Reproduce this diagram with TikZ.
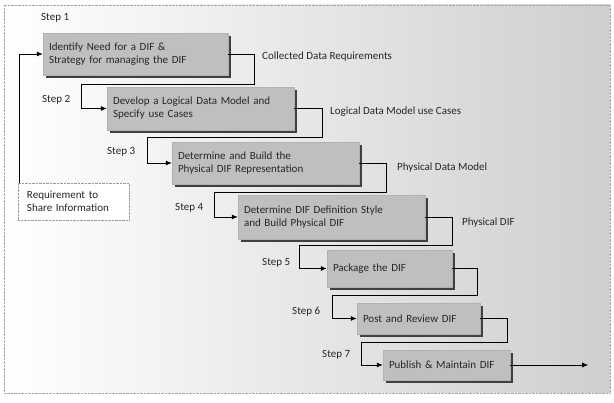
\documentclass[tikz,border=0pt]{standalone}
\usepackage{fontspec}
\setmainfont{Carlito}
\usetikzlibrary{arrows.meta,shadows,calc}
\begin{document}
\begin{tikzpicture}[x=1pt,y=-1pt,
  every node/.style={font=\fontsize{11}{13}\selectfont, text=black!85},
  stepbox/.style={fill=gray!50, draw=gray!60, inner xsep=6pt, inner ysep=0pt, align=left,
    drop shadow={shadow xshift=3pt, shadow yshift=-3pt, fill=black!75, opacity=1}},
  reqbox/.style={fill=white, draw=gray!80, densely dotted, inner xsep=9pt, inner ysep=0pt, align=left,
    text width=93pt, minimum height=37pt},
  conn/.style={draw=black, line width=0.8pt, -{Latex[length=6pt,width=5pt]}},
  lbl/.style={anchor=west, inner sep=0pt},
  steplbl/.style={anchor=west, inner sep=0pt}]
\useasboundingbox (0,0) rectangle (614,403);
\path[shading=axis, shading angle=60, left color=white, right color=gray!38] (4,5) rectangle (610,393);
\draw[gray!70, densely dotted] (4,5) rectangle (610,393);

\node[stepbox, text width=173pt, minimum height=42pt] (b1) at (135.5,54) {Identify Need for a DIF \&\\Strategy for managing the DIF};
\node[stepbox, text width=175pt, minimum height=43pt] (b2) at (200.5,108.5) {Develop a Logical Data Model and\\Specify use Cases};
\node[stepbox, text width=175pt, minimum height=42pt] (b3) at (265.5,163) {Determine and Build the\\Physical DIF Representation};
\node[stepbox, text width=175pt, minimum height=44pt] (b4) at (331.5,217) {Determine DIF Definition Style\\and Build Physical DIF};
\node[stepbox, text width=113pt, minimum height=37pt] (b5) at (389.5,268.5) {Package the DIF};
\node[stepbox, text width=111pt, minimum height=31pt] (b6) at (418.5,318.5) {Post and Review DIF};
\node[stepbox, text width=115pt, minimum height=30pt] (b7) at (446.5,365) {Publish \& Maintain DIF};

\node[reqbox] (req) at (73.5,201.5) {Requirement to\\Share Information};

\node[steplbl] (s1) at (41,18) {Step 1};
\node[steplbl] (s2) at (42,100) {Step 2};
\node[steplbl] (s3) at (107,152) {Step 3};
\node[steplbl] (s4) at (175,208) {Step 4};
\node[steplbl] (s5) at (262,263) {Step 5};
\node[steplbl] (s6) at (292,312) {Step 6};
\node[steplbl] (s7) at (322,355) {Step 7};

\node[lbl] (l1) at (262,57) {Collected Data Requirements};
\node[lbl] (l2) at (330,112) {Logical Data Model use Cases};
\node[lbl] (l3) at (397,168) {Physical Data Model};
\node[lbl] (l4) at (462,223) {Physical DIF};

\draw[conn] ([xshift=2pt]req.north west) |- (b1.west);
\draw[conn] (b1.east) -- ++(26,0) -- ++(0,30) -| ($(b2.west)+(-25,0)$) -- (b2.west);
\draw[conn] (b2.east) -- ++(28,0) -- ++(0,28.5) -| ($(b3.west)+(-24,0)$) -- (b3.west);
\draw[conn] (b3.east) -- ++(27,0) -- ++(0,29) -| ($(b4.west)+(-23,0)$) -- (b4.west);
\draw[conn] (b4.east) -- ++(27,0) -- ++(0,28) -| ($(b5.west)+(-27,0)$) -- (b5.west);
\draw[conn] (b5.east) -- ++(25,0) -- ++(0,26.5) -| ($(b6.west)+(-24,0)$) -- (b6.west);
\draw[conn] (b6.east) -- ++(27,0) -- ++(0,23.5) -| ($(b7.west)+(-21,0)$) -- (b7.west);
\coordinate (out) at ($(b7.east)+(78,0)$);
\draw[conn] (b7.east) -- (out);
\end{tikzpicture}
\end{document}
